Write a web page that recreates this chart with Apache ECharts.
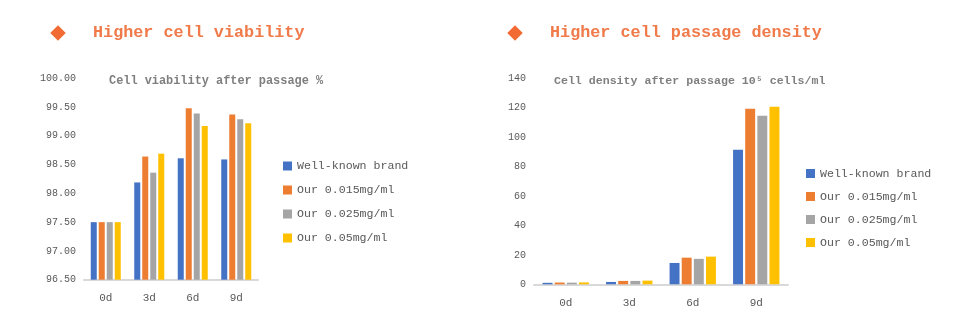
<!DOCTYPE html>
<html>
<head>
<meta charset="utf-8">
<script src="https://cdn.jsdelivr.net/npm/echarts@6/dist/echarts.min.js"></script>
<style>
html,body{margin:0;padding:0;background:#fff;}
#c{width:976px;height:327px;}
</style>
</head>
<body>
<div id="c"></div>
<script>
const categories = ['0d', '3d', '6d', '9d'];
const seriesNames = ['Well-known brand', 'Our 0.015mg/ml', 'Our 0.025mg/ml', 'Our 0.05mg/ml'];
const colors = ['#4472C4', '#ED7D31', '#A5A5A5', '#FFC000'];

// Left chart: cell viability (%)
const viabilityBrand = [97.50, 98.19, 98.61, 98.59];
const viability015 = [97.50, 98.64, 99.48, 99.37];
const viability025 = [97.50, 98.36, 99.39, 99.29];
const viability05 = [97.50, 98.69, 99.17, 99.22];

// Right chart: cell density (10^5 cells/ml)
const densityBrand = [1.0, 1.6, 14.5, 91.4];
const density015 = [1.2, 2.3, 18.1, 119.3];
const density025 = [1.1, 2.3, 17.3, 114.5];
const density05 = [1.3, 2.5, 18.8, 120.7];

const viabilityTicks = { min: 96.5, max: 100, interval: 0.5 };
const densityTicks = { min: 0, max: 140, interval: 20 };

const mono = '"Liberation Mono", "DejaVu Sans Mono", monospace';
const viabilitySets = [viabilityBrand, viability015, viability025, viability05];
const densitySets = [densityBrand, density015, density025, density05];

const chart = echarts.init(document.getElementById('c'));

function bars(sets, idx, catGap, gap) {
  return sets.map((d, i) => ({
    name: seriesNames[i], type: 'bar', xAxisIndex: idx, yAxisIndex: idx,
    data: d, itemStyle: { color: colors[i] },
    barCategoryGap: catGap, barGap: gap, animation: false
  }));
}

const axisLabelStyle = { color: '#595959', fontFamily: mono, fontSize: 10 };

chart.setOption({
  backgroundColor: '#fff',
  animation: false,
  color: colors,
  graphic: [
    { type: 'rect', x: 58, y: 33, rotation: Math.PI / 4, shape: { x: -5.5, y: -5.5, width: 11, height: 11 }, style: { fill: '#F26B35' } },
    { type: 'rect', x: 515, y: 33, rotation: Math.PI / 4, shape: { x: -5.5, y: -5.5, width: 11, height: 11 }, style: { fill: '#F26B35' } },
    { type: 'text', x: 93, y: 33, style: { text: 'Higher cell viability', font: 'bold 16.8px ' + mono, fill: '#F07A4A', verticalAlign: 'middle' } },
    { type: 'text', x: 550, y: 33, style: { text: 'Higher cell passage density', font: 'bold 16.8px ' + mono, fill: '#F07A4A', verticalAlign: 'middle' } },
    { type: 'text', x: 109, y: 81, style: { text: 'Cell viability after passage %', font: 'bold 11.9px ' + mono, fill: '#7F7F7F', verticalAlign: 'middle' } },
    { type: 'text', x: 554, y: 81, style: { text: 'Cell density after passage 10⁵ cells/ml', font: 'bold 11.6px ' + mono, fill: '#7F7F7F', verticalAlign: 'middle' } }
  ],
  legend: [
    { data: seriesNames, orient: 'vertical', left: 283, top: 160, padding: 0, itemWidth: 9, itemHeight: 9, itemGap: 12, icon: 'rect',
      textStyle: { fontFamily: mono, fontSize: 11.6, color: '#595959' }, selectedMode: false },
    { data: seriesNames, orient: 'vertical', left: 806, top: 167.5, padding: 0, itemWidth: 9, itemHeight: 9, itemGap: 11, icon: 'rect',
      textStyle: { fontFamily: mono, fontSize: 11.6, color: '#595959' }, selectedMode: false }
  ],
  grid: [
    { left: 84, right: 976 - 258, top: 78.3, bottom: 327 - 279.7 },
    { left: 534, right: 976 - 788, top: 78.3, bottom: 327 - 284.3 }
  ],
  xAxis: [0, 1].map(i => ({
    type: 'category', gridIndex: i, data: categories,
    axisLine: { lineStyle: { color: '#D9D9D9', width: 2 } },
    axisTick: { show: false },
    axisLabel: { color: '#595959', fontFamily: mono, fontSize: 11, margin: 13 }
  })),
  yAxis: [
    { type: 'value', gridIndex: 0, min: viabilityTicks.min, max: viabilityTicks.max, interval: viabilityTicks.interval,
      splitLine: { show: false }, axisLine: { show: false }, axisTick: { show: false },
      axisLabel: Object.assign({ formatter: v => v.toFixed(2), margin: 8 }, axisLabelStyle) },
    { type: 'value', gridIndex: 1, min: densityTicks.min, max: densityTicks.max, interval: densityTicks.interval,
      splitLine: { show: false }, axisLine: { show: false }, axisTick: { show: false },
      axisLabel: Object.assign({ margin: 8 }, axisLabelStyle) }
  ],
  series: bars(viabilitySets, 0, '31%', '33%').concat(bars(densitySets, 1, '27%', '22%'))
});
</script>
</body>
</html>
